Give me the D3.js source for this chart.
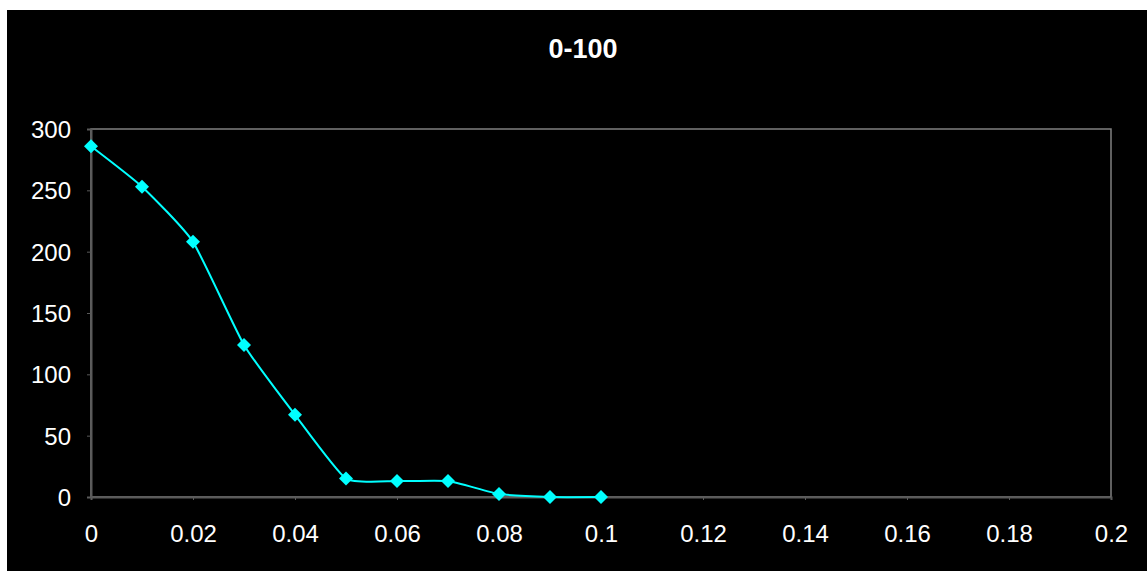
<!DOCTYPE html>
<html><head><meta charset="utf-8">
<script src="https://cdn.jsdelivr.net/npm/d3@7/dist/d3.min.js"></script>
<style>html,body{margin:0;padding:0;background:#fff;}svg{display:block;}</style>
</head><body>
<svg id="c" width="1147" height="571"></svg>
<script>
const xValues = [0, 0.01, 0.02, 0.03, 0.04, 0.05, 0.06, 0.07, 0.08, 0.09, 0.1];
const yValues = [286, 253, 208, 124, 67, 15, 13, 13, 2.5, 0, 0];
const xTicks = [0, 0.02, 0.04, 0.06, 0.08, 0.1, 0.12, 0.14, 0.16, 0.18, 0.2];
const yTicks = [0, 50, 100, 150, 200, 250, 300];
const title = "0-100";

const svg = d3.select("#c");
svg.append("rect").attr("x", 7).attr("y", 10).attr("width", 1140).attr("height", 561).attr("fill", "#000");

const L = 91, R = 1111, T = 129, B = 497;
const x = d3.scaleLinear().domain([0, 0.2]).range([L, R]);
const y = d3.scaleLinear().domain([0, 300]).range([B, T]);
const font = "'Liberation Sans', Arial, sans-serif";

svg.append("text").attr("x", 583).attr("y", 58).attr("text-anchor", "middle")
  .attr("fill", "#fff").attr("font-family", font).attr("font-weight", "bold").attr("font-size", 27).text(title);

// plot border
svg.append("rect").attr("x", L).attr("y", T).attr("width", R - L).attr("height", B - T)
  .attr("fill", "none").attr("stroke", "#808080").attr("stroke-width", 1.5);

const xAxis = svg.append("g").attr("transform", `translate(0,${B})`)
  .call(d3.axisBottom(x).tickValues(xTicks).tickSize(3).tickPadding(25).tickFormat(d => String(+d.toFixed(2))));
const yAxis = svg.append("g").attr("transform", `translate(${L},0)`)
  .call(d3.axisLeft(y).tickValues(yTicks).tickSize(4).tickPadding(16));
[xAxis, yAxis].forEach(g => {
  g.select(".domain").attr("stroke", "#5a5a5a").attr("stroke-width", 2);
  g.selectAll(".tick line").attr("stroke", "#5a5a5a");
  g.selectAll("text").attr("fill", "#fff").attr("font-family", font).attr("font-size", 24);
});
yAxis.selectAll("text").attr("dy", "0.35em");

const data = xValues.map((v, i) => [v, yValues[i]]);
const line = d3.line().x(d => x(d[0])).y(d => y(d[1])).curve(d3.curveCardinal.tension(0.5));
svg.append("path").datum(data).attr("d", line).attr("fill", "none").attr("stroke", "#00FFFF").attr("stroke-width", 2);

svg.append("g").selectAll("path").data(data).join("path")
  .attr("transform", d => `translate(${x(d[0])},${y(d[1])})`)
  .attr("d", "M0,-7L7,0L0,7L-7,0Z").attr("fill", "#00FFFF");
</script>
</body></html>
